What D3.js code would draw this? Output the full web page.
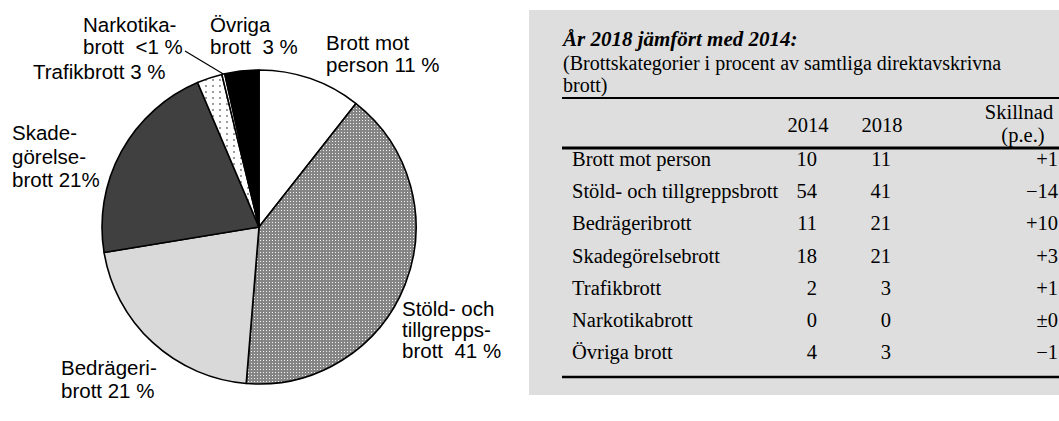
<!DOCTYPE html>
<html>
<head>
<meta charset="utf-8">
<script src="https://cdn.jsdelivr.net/npm/d3@7"></script>
<style>
  html, body { margin: 0; padding: 0; background: #fff; }
  svg { display: block; }
  .lbl { font-family: "Liberation Sans", Arial, sans-serif; font-size: 20.5px; fill: #000; }
  .tbl { font-family: "Liberation Serif", "Times New Roman", serif; font-size: 20.5px; fill: #000; }
</style>
</head>
<body>
<script>
// ---------- DATA ----------
const categories = ["Brott mot person", "Stöld- och tillgreppsbrott", "Bedrägeribrott",
  "Skadegörelsebrott", "Trafikbrott", "Narkotikabrott", "Övriga brott"];
// pie shares 2018 (percent)
const pieShares = [10.6, 40.7, 21.1, 21.2, 2.6, 0.3, 3.5];
const values2014 = [10, 54, 11, 18, 2, 0, 4];
const values2018 = [11, 41, 21, 21, 3, 0, 3];
const diffLabels = ["+1", "\u221214", "+10", "+3", "+1", "\u00b10", "\u22121"];
const pieLabelLines = [
  ["Brott mot", "person 11 %"],
  ["Stöld- och", "tillgrepps-", "brott  41 %"],
  ["Bedrägeri-", "brott 21 %"],
  ["Skade-", "görelse-", "brott 21%"],
  ["Trafikbrott 3 %"],
  ["Narkotika-", "brott  <1 %"],
  ["Övriga", "brott  3 %"]
];
const tableTitle = "År 2018 jämfört med 2014:";
const tableSubtitle = ["(Brottskategorier i procent av samtliga direktavskrivna", "brott)"];
const colHeaders = ["2014", "2018"];
const diffHeader = ["Skillnad", "(p.e.)"];

// ---------- LAYOUT ----------
const W = 1059, H = 421;
const svg = d3.select("body").append("svg").attr("width", W).attr("height", H);

const defs = svg.append("defs");
const pd = defs.append("pattern").attr("id", "dense").attr("patternUnits", "userSpaceOnUse")
  .attr("width", 3).attr("height", 3);
pd.append("rect").attr("width", 3).attr("height", 3).attr("fill", "#858585");
pd.append("rect").attr("x", 1).attr("y", 1).attr("width", 1).attr("height", 1).attr("fill", "#f2f2f2");
const ps = defs.append("pattern").attr("id", "sparse").attr("patternUnits", "userSpaceOnUse")
  .attr("width", 7).attr("height", 6);
ps.append("rect").attr("width", 7).attr("height", 6).attr("fill", "#fff");
ps.append("circle").attr("cx", 3).attr("cy", 3).attr("r", 0.9).attr("fill", "#6e6e6e");

const fills = ["#ffffff", "url(#dense)", "#d9d9d9", "#404040", "url(#sparse)", "#ffffff", "#000000"];

// ---------- PIE ----------
const cx = 259, cy = 227, R = 157;
const pie = d3.pie().sort(null).value(d => d.v);
const arcs = pie(categories.map((c, i) => ({ c, v: pieShares[i], i })));
const arc = d3.arc().innerRadius(0).outerRadius(R);
const g = svg.append("g").attr("transform", `translate(${cx},${cy})`);
g.selectAll("path.slice").data(arcs).join("path")
  .attr("class", "slice")
  .attr("d", arc)
  .attr("fill", (d, i) => fills[i])
  .attr("stroke", "#000")
  .attr("stroke-width", 1.6)
  .attr("stroke-linejoin", "round");

// leader line for Narkotika
const nark = arcs[5];
const midA = (nark.startAngle + nark.endAngle) / 2;
svg.append("line")
  .attr("x1", 185).attr("y1", 51)
  .attr("x2", cx + R * Math.sin(midA)).attr("y2", cy - R * Math.cos(midA))
  .attr("stroke", "#000").attr("stroke-width", 1.2);

// label positions (x, first baseline, line height)
const labelPos = [
  [326, 50, 22],
  [402, 316, 21],
  [61, 375, 23],
  [12, 140, 23.5],
  [33, 79, 22],
  [83, 32, 22],
  [210, 32, 22]
];
pieLabelLines.forEach((lines, i) => {
  const [x, y, lh] = labelPos[i];
  const t = svg.append("text").attr("class", "lbl").attr("x", x).attr("y", y);
  lines.forEach((s, k) => {
    t.append("tspan").attr("x", x).attr("y", y + k * lh).attr("xml:space", "preserve").text(s);
  });
});

// ---------- TABLE ----------
svg.append("rect").attr("x", 529).attr("y", 10).attr("width", W - 529).attr("height", 385)
  .attr("fill", "#dedede");

svg.append("text").attr("class", "tbl").attr("x", 563).attr("y", 46)
  .style("font-weight", "bold").style("font-style", "italic").style("font-size", "21px")
  .text(tableTitle);
tableSubtitle.forEach((s, k) => {
  svg.append("text").attr("class", "tbl").attr("x", 563).attr("y", 70 + k * 22)
    .style("font-size", "20px").text(s);
});

const lineX1 = 562, lineX2 = W;
[[98, 2], [148, 3], [377, 2.5]].forEach(([y, w]) => {
  svg.append("line").attr("x1", lineX1).attr("x2", lineX2).attr("y1", y).attr("y2", y)
    .attr("stroke", "#000").attr("stroke-width", w);
});

const colCenter = [808, 882];
const colRight = [817, 891];
colHeaders.forEach((h, j) => {
  svg.append("text").attr("class", "tbl").attr("x", colCenter[j]).attr("y", 132)
    .attr("text-anchor", "middle").text(h);
});
svg.append("text").attr("class", "tbl").attr("x", 1019).attr("y", 119)
  .attr("text-anchor", "middle").text(diffHeader[0]);
svg.append("text").attr("class", "tbl").attr("x", 1023).attr("y", 142)
  .attr("text-anchor", "middle").text(diffHeader[1]);

const yRow = d3.scalePoint().domain(categories).range([166, 359]);
const rows = svg.append("g").selectAll("g").data(categories).join("g")
  .attr("transform", d => `translate(0,${yRow(d)})`);
rows.append("text").attr("class", "tbl").attr("x", 572).text(d => d);
rows.append("text").attr("class", "tbl").attr("x", colRight[0]).attr("text-anchor", "end")
  .text((d, i) => values2014[i]);
rows.append("text").attr("class", "tbl").attr("x", colRight[1]).attr("text-anchor", "end")
  .text((d, i) => values2018[i]);
rows.append("text").attr("class", "tbl").attr("x", 1058).attr("text-anchor", "end")
  .text((d, i) => diffLabels[i]);
</script>
</body>
</html>
